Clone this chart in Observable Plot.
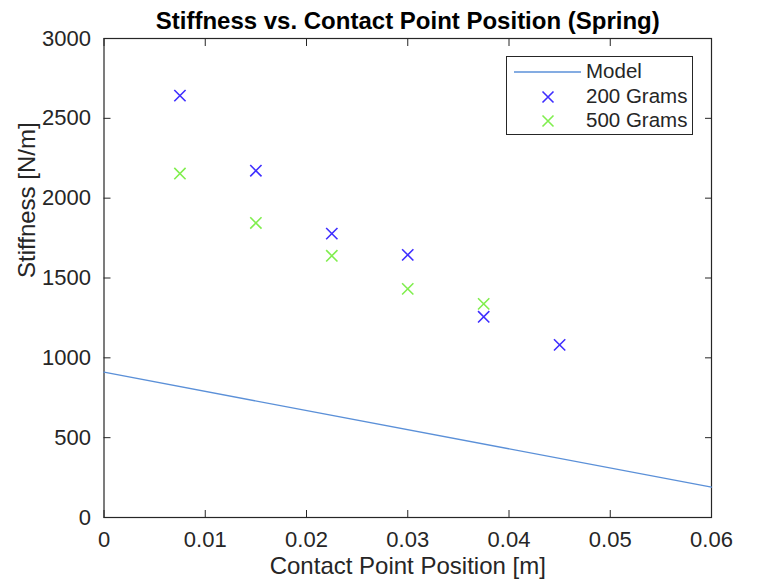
<!DOCTYPE html>
<html>
<head>
<meta charset="utf-8">
<script src="https://cdn.jsdelivr.net/npm/d3@7"></script>
<script src="https://cdn.jsdelivr.net/npm/@observablehq/plot@0.6"></script>
<style>
  html, body { margin: 0; padding: 0; background: #fff; }
  #chart { position: relative; width: 782px; height: 582px; font-family: "Liberation Sans", Arial, sans-serif; }
  #legend { position: absolute; left: 506px; top: 56px; width: 185px; height: 77px;
            border: 1px solid #262626; background: #fff; color: #262626; font-size: 20.5px; }
  #legend .row { position: absolute; left: 0; height: 24px; width: 100%; }
  #legend .row svg { position: absolute; left: 6px; top: 0; }
  #legend .row span { position: absolute; left: 79px; top: 0px; line-height: 22px; }
</style>
</head>
<body>
<div id="chart"></div>
<script>
// Contact point positions [m] where each load was measured
const positions200 = [0.0075, 0.015, 0.0225, 0.03, 0.0375, 0.045];
const positions500 = [0.0075, 0.015, 0.0225, 0.03, 0.0375];
// Measured stiffness [N/m]
const stiffness200 = [2642, 2172, 1778, 1645, 1257, 1081];
const stiffness500 = [2154, 1845, 1639, 1432, 1338];
// Model prediction (straight line between its end points)
const modelPositions = [0, 0.06];
const modelStiffness = [910, 190];

// Axis ticks and labels
const xTicks = [0, 0.01, 0.02, 0.03, 0.04, 0.05, 0.06];
const xTickLabels = ["0", "0.01", "0.02", "0.03", "0.04", "0.05", "0.06"];
const yTicks = [0, 500, 1000, 1500, 2000, 2500, 3000];
const yTickLabels = ["0", "500", "1000", "1500", "2000", "2500", "3000"];

const titleText = "Stiffness vs. Contact Point Position (Spring)";
const xLabel = "Contact Point Position [m]";
const yLabel = "Stiffness [N/m]";

const series = [
  {name: "Model", color: "#5b90d8", kind: "line"},
  {name: "200 Grams", color: "#3f2eff", kind: "cross"},
  {name: "500 Grams", color: "#80ee4e", kind: "cross"}
];

const model = modelPositions.map((x, i) => ({x, y: modelStiffness[i]}));
const grams200 = positions200.map((x, i) => ({x, y: stiffness200[i]}));
const grams500 = positions500.map((x, i) => ({x, y: stiffness500[i]}));

const axisColor = "#262626";

const chart = Plot.plot({
  width: 782,
  height: 582,
  marginLeft: 103.5,
  marginRight: 71,
  marginTop: 38,
  marginBottom: 65,
  style: {fontFamily: "'Liberation Sans', Arial, sans-serif", fontSize: "22px", color: axisColor, background: "#fff", overflow: "visible"},
  x: {domain: [0, 0.06], ticks: xTicks},
  y: {domain: [0, 3000], ticks: yTicks},
  marks: [
    // inward ticks on all four sides
    Plot.axisX(xTicks, {anchor: "bottom", tickSize: -7, text: null, label: null, stroke: axisColor}),
    Plot.axisX(xTicks, {anchor: "top", tickSize: -7, text: null, label: null, stroke: axisColor}),
    Plot.axisY(yTicks, {anchor: "left", tickSize: -7, text: null, label: null, stroke: axisColor}),
    Plot.axisY(yTicks, {anchor: "right", tickSize: -7, text: null, label: null, stroke: axisColor}),
    // tick labels
    Plot.axisX(xTicks, {anchor: "bottom", tickSize: 0, tickPadding: 14, label: null,
      tickFormat: (d) => xTickLabels[xTicks.indexOf(d)], fill: axisColor}),
    Plot.axisY(yTicks, {anchor: "left", tickSize: 0, tickPadding: 13, label: null,
      tickFormat: (d) => yTickLabels[yTicks.indexOf(d)], fill: axisColor}),
    Plot.frame({stroke: axisColor, strokeWidth: 1.2}),
    // model line
    Plot.line(model, {x: "x", y: "y", stroke: series[0].color, strokeWidth: 1.3}),
    // measurements
    Plot.dot(grams200, {x: "x", y: "y", symbol: "times", r: 5.2, stroke: series[1].color, strokeWidth: 1.6}),
    Plot.dot(grams500, {x: "x", y: "y", symbol: "times", r: 5.2, stroke: series[2].color, strokeWidth: 1.6}),
    // title and axis labels
    Plot.text([titleText], {frameAnchor: "top", dy: -17, fontWeight: "bold", fontSize: 24, fill: "#000", lineAnchor: "middle"}),
    Plot.text([xLabel], {frameAnchor: "bottom", dy: 49, fontSize: 24, fill: axisColor, lineAnchor: "middle"}),
    Plot.text([yLabel], {frameAnchor: "left", dx: -77, rotate: -90, fontSize: 24, fill: axisColor, lineAnchor: "middle"})
  ]
});

const root = document.getElementById("chart");
root.appendChild(chart);

// legend box
const legend = document.createElement("div");
legend.id = "legend";
series.forEach((s, i) => {
  const row = document.createElement("div");
  row.className = "row";
  row.style.top = (3 + i * 24.5) + "px";
  const sample = s.kind === "line"
    ? `<svg width="70" height="24"><line x1="1" x2="68" y1="12" y2="12" stroke="${s.color}" stroke-width="1.3"/></svg>`
    : `<svg width="70" height="24"><path d="M29.5,6.5L40.5,17.5M40.5,6.5L29.5,17.5" stroke="${s.color}" stroke-width="1.6" fill="none"/></svg>`;
  row.innerHTML = sample + `<span>${s.name}</span>`;
  legend.appendChild(row);
});
root.appendChild(legend);
</script>
</body>
</html>
